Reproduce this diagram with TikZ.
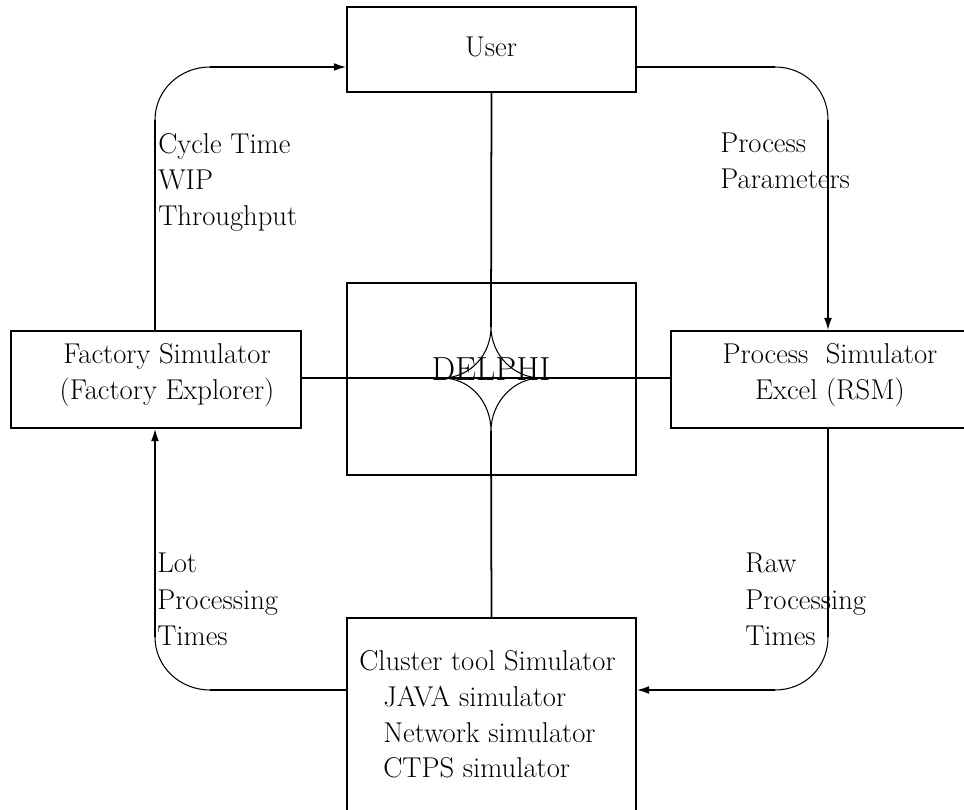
\documentclass[tikz,border=0pt]{standalone}
\usepackage{tikz}
\usetikzlibrary{arrows.meta}
\usetikzlibrary{positioning, calc}

\tikzset{
  simbox/.style={draw, line width=0.9pt, inner sep=0pt},
  flowline/.style={line width=1pt},
  bendline/.style={line width=0.6pt},
  lbl/.style={anchor=north west, inner sep=0pt, align=left,
    font=\fontsize{16.3}{20.5}\selectfont},
  boxtext/.style={inner sep=0pt, align=center,
    font=\fontsize{16.3}{20.5}\selectfont}
}

\begin{document}
\begin{tikzpicture}[x=0.02cm, y=-0.02cm, >={Latex[length=7pt,width=4.5pt]}]

\useasboundingbox (0,0) rectangle (964,810);

% the five blocks
\node[simbox, minimum width=289*0.02cm, minimum height=85*0.02cm] (user) at (491.5,49.5) {};
\node[simbox, minimum width=289*0.02cm, minimum height=192*0.02cm] (delphi) at (491.5,379) {};
\node[simbox, minimum width=290*0.02cm, minimum height=97*0.02cm] (factory) at (156,379.5) {};
\node[simbox, minimum width=296*0.02cm, minimum height=97*0.02cm] (process) at (819,379.5) {};
\node[simbox, minimum width=289*0.02cm, minimum height=196*0.02cm] (cluster) at (491.5,716) {};

% texts of the blocks
\node[boxtext] (usertxt) at (491,47) {User};
\node[inner sep=0pt, font=\fontsize{19}{22}\selectfont] (delphitxt) at (491,369) {DELPHI};
\node[boxtext] (factorytxt) at (167,375) {Factory Simulator\\(Factory Explorer)};
\node[boxtext] (processtxt) at (830,375) {Process\ \ Simulator\\Excel (RSM)};
\node[lbl] (clustertxt) at (359,650) {Cluster tool Simulator};
\node[lbl, font=\fontsize{16.3}{20.3}\selectfont] (clusterlist) at (383,686) {JAVA simulator\\Network simulator\\CTPS simulator};

% labels along the loop
\node[lbl] (outlbl) at (158,133) {Cycle Time\\WIP\\Throughput};
\node[lbl] (parlbl) at (720,133) {Process\\Parameters};
\node[lbl, font=\fontsize{16.3}{20.8}\selectfont] (lotlbl) at (157,553) {Lot\\Processing\\Times};
\node[lbl, font=\fontsize{16.3}{20.8}\selectfont] (rawlbl) at (745,553) {Raw\\Processing\\Times};

% corner points of the loop
\coordinate (tl) at (155,120);
\coordinate (tr) at (828,120);
\coordinate (bl) at (155,637);
\coordinate (br) at (828,637);

% outer loop
\draw[flowline] (factory.north -| tl) -- (tl);
\draw[bendline] (tl) .. controls (155,90) and (180,67) .. (210,67);
\draw[flowline, ->] (210,67) -- (user.west |- 0,67);

\draw[flowline] (user.east |- 0,67) -- (775,67);
\draw[bendline] (775,67) .. controls (805,67) and (828,90) .. (tr);
\draw[flowline, ->] (tr) -- (process.north -| tr);

\draw[flowline] (process.south -| br) -- (br);
\draw[bendline] (br) .. controls (828,667) and (805,690) .. (775,690);
\draw[flowline, ->] (775,690) -- (cluster.east |- 0,690);

\draw[flowline] (cluster.west |- 0,690) -- (210,690);
\draw[bendline] (210,690) .. controls (180,690) and (155,667) .. (bl);
\draw[flowline, ->] (bl) -- (factory.south -| bl);

% the star in the middle
\coordinate (st) at (491,327);
\coordinate (sl) at (442,378);
\coordinate (sr) at (541,378);
\coordinate (sb) at (491,431);
\draw[flowline] (user.south) -- (st);
\draw[flowline] (sb) -- (cluster.north);
\draw[line width=0.8pt] (factory.east |- sl) -- (process.west |- sl);
\draw[bendline] (st) .. controls (491,355) and (470,378) .. (sl)
  .. controls (470,378) and (491,402) .. (sb)
  .. controls (491,402) and (514,378) .. (sr)
  .. controls (514,378) and (491,355) .. (st);

% doubled strokes on the borders
\draw[line width=1.3pt] (418,283) -- (491,283);
\draw[line width=1.3pt] (742,428) -- (924,428);

\end{tikzpicture}
\end{document}
